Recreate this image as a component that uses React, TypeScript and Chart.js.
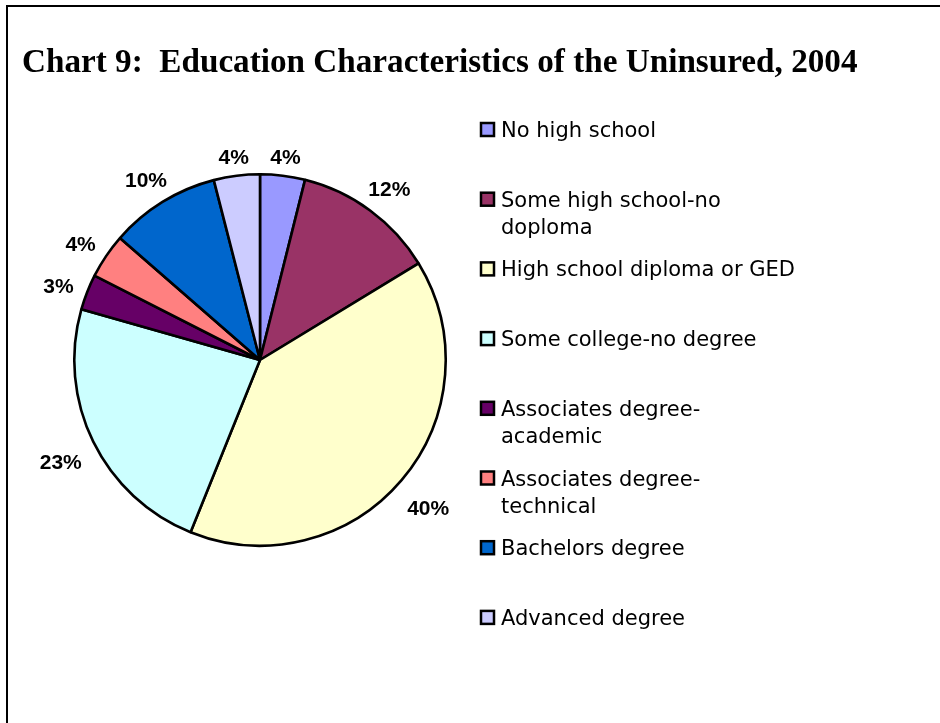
import React, { useEffect, useRef } from "react";
import { Chart, registerables } from "chart.js";

Chart.register(...registerables);

const TITLE = "Chart 9:  Education Characteristics of the Uninsured, 2004";

// Legend categories (line breaks as in the original legend)
const categories: string[][] = [
  ["No high school"],
  ["Some high school-no", "doploma"],
  ["High school diploma or GED"],
  ["Some college-no degree"],
  ["Associates degree-", "academic"],
  ["Associates degree-", "technical"],
  ["Bachelors degree"],
  ["Advanced degree"],
];

// Share of uninsured (percent)
const shares: number[] = [3.9, 12.4, 39.8, 23.3, 3.1, 3.9, 9.6, 4.0];

const colors: string[] = [
  "#9999FF",
  "#993366",
  "#FFFFCC",
  "#CCFFFF",
  "#660066",
  "#FF8080",
  "#0066CC",
  "#CCCCFF",
];

const framePlugin = {
  id: "frame",
  beforeDraw(chart: any) {
    const ctx = chart.ctx as CanvasRenderingContext2D;
    ctx.save();
    ctx.fillStyle = "#ffffff";
    ctx.fillRect(0, 0, chart.width, chart.height);
    ctx.strokeStyle = "#000000";
    ctx.lineWidth = 2;
    ctx.beginPath();
    ctx.moveTo(7, chart.height);
    ctx.lineTo(7, 6);
    ctx.lineTo(chart.width, 6);
    ctx.stroke();
    ctx.fillStyle = "#000000";
    ctx.font = "bold 33.2px 'Liberation Serif'";
    ctx.textAlign = "left";
    ctx.textBaseline = "alphabetic";
    ctx.fillText(TITLE, 22, 72);
    ctx.restore();
  },
};

const sideLegendPlugin = {
  id: "sideLegend",
  afterDraw(chart: any) {
    const ctx = chart.ctx as CanvasRenderingContext2D;
    const labels = chart.data.labels as string[][];
    const bg = chart.data.datasets[0].backgroundColor as string[];
    ctx.save();
    ctx.font = "21px 'DejaVu Sans'";
    ctx.textAlign = "left";
    ctx.textBaseline = "alphabetic";
    labels.forEach((lines, i) => {
      const y0 = 129.5 + 69.7 * i;
      ctx.fillStyle = bg[i];
      ctx.fillRect(481, y0 - 6.5, 13, 13);
      ctx.strokeStyle = "#000000";
      ctx.lineWidth = 2.5;
      ctx.strokeRect(481, y0 - 6.5, 13, 13);
      ctx.fillStyle = "#000000";
      lines.forEach((t, j) => {
        ctx.fillText(t, 501, y0 + 7.5 + j * 27);
      });
    });
    ctx.restore();
  },
};

const pieLabelPlugin = {
  id: "pieLabels",
  afterDatasetsDraw(chart: any) {
    const ctx = chart.ctx as CanvasRenderingContext2D;
    const meta = chart.getDatasetMeta(0);
    const vals = chart.data.datasets[0].data as number[];
    const total = vals.reduce((a, b) => a + b, 0);
    ctx.save();
    ctx.font = "bold 21px 'Liberation Sans'";
    ctx.fillStyle = "#000000";
    ctx.textAlign = "center";
    ctx.textBaseline = "middle";
    meta.data.forEach((arc: any, i: number) => {
      const p = arc.getProps(["x", "y", "startAngle", "endAngle", "outerRadius"], true);
      const mid = (p.startAngle + p.endAngle) / 2;
      const txt = Math.round((vals[i] / total) * 100) + "%";
      const w = ctx.measureText(txt).width;
      const h = 15;
      const dx = Math.cos(mid);
      const dy = Math.sin(mid);
      const r = p.outerRadius + 14 + (Math.abs(dx) * w) / 2 + (Math.abs(dy) * h) / 2;
      ctx.fillText(txt, p.x + dx * r, p.y + dy * r + 6);
    });
    ctx.restore();
  },
};

export default function App() {
  const ref = useRef<HTMLCanvasElement>(null);
  useEffect(() => {
    const chart = new Chart(ref.current as HTMLCanvasElement, {
      type: "pie",
      data: {
        labels: categories as any,
        datasets: [
          {
            data: shares,
            backgroundColor: colors,
            borderColor: "#000000",
            borderWidth: 2.6,
            radius: 185.7,
          } as any,
        ],
      },
      options: {
        responsive: false,
        animation: false,
        events: [],
        layout: { padding: { left: 40, right: 460, top: 150, bottom: 153 } },
        plugins: {
          legend: { display: false },
          tooltip: { enabled: false },
          title: { display: false },
        },
      },
      plugins: [framePlugin, sideLegendPlugin, pieLabelPlugin],
    });
    return () => chart.destroy();
  }, []);
  return (
    <div
      style={{
        position: "absolute",
        left: 0,
        top: 0,
        width: 940,
        height: 723,
        background: "#ffffff",
      }}
    >
      <canvas
        ref={ref}
        width={940}
        height={723}
        style={{ display: "block", width: 940, height: 723 }}
      />
    </div>
  );
}
